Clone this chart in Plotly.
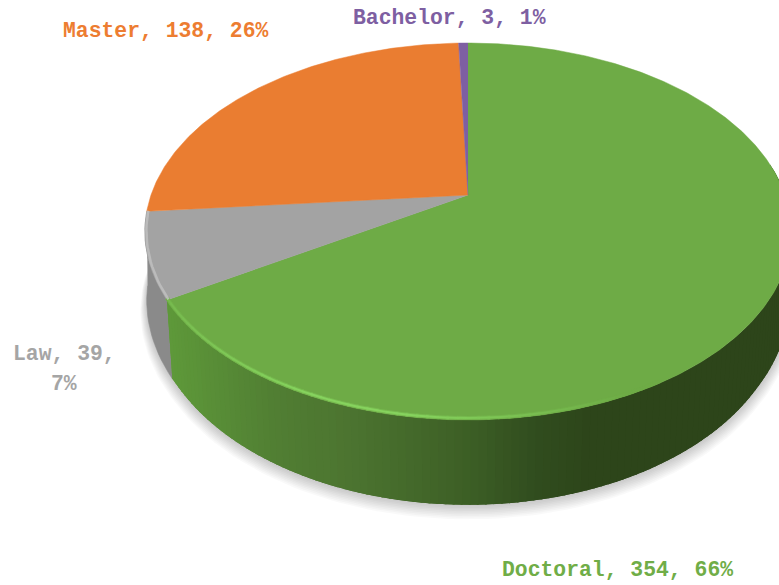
import numpy as np
import plotly.graph_objects as go

categories = ["Doctoral", "Law", "Master", "Bachelor"]
values = [354, 39, 138, 3]
top_colors = ["#6EAB46", "#A3A3A3", "#EA7D31", "#7E5FA2"]
text_colors = ["#70AD47", "#A5A5A5", "#ED7D31", "#7E5FA2"]

# screen geometry of the tilted disc
CX, CY, AX, BY, K = 468.0, 195.0, 317.0, 181.4, 0.1936
BASE_CY, BASE_SY = 268.6, 1.05

side_stops_x = [150, 175, 270, 350, 470, 540, 590, 800]
side_stops_rgb = [(96, 156, 60), (93, 151, 57), (81, 127, 51), (76, 116, 48),
                  (60, 94, 37), (48, 76, 30), (45, 69, 26), (45, 69, 26)]


def top_pt(deg):
    t = np.radians(deg)
    x, y = np.sin(t), np.cos(t)
    w = 1 + K * y
    return CX + AX * x / w, CY - BY * y / w


def base_pt(deg):
    sx, sy = top_pt(deg)
    rel = sy - CY
    factor = max(0.98, 1.0 - 0.018 * max(rel, 0) / 105)
    return CX + factor * (sx - CX), BASE_CY + BASE_SY * rel


def side_color(x):
    c = [np.interp(x, side_stops_x, [s[i] for s in side_stops_rgb]) for i in range(3)]
    return "rgb(%d,%d,%d)" % tuple(int(round(v)) for v in c)


total = sum(values)
angles = np.concatenate([[0], np.cumsum(values) / total * 360])
fig = go.Figure()


def poly(xs, ys, color, lw=0.6, line=None):
    fig.add_trace(go.Scatter(x=list(xs), y=list(ys), mode="lines", fill="toself",
                             fillcolor=color, line=dict(color=line or color, width=lw),
                             hoverinfo="skip", showlegend=False))


# soft shadow under the disc
arc = np.linspace(0, 360, 241)
for i in range(9):
    pts = np.array([base_pt(a) for a in arc])
    grow = 1.0 + (9 - i) * 0.0022
    xs = CX + (pts[:, 0] - CX) * grow
    ys = BASE_CY + (pts[:, 1] - BASE_CY) * grow + (9 - i) * 1.1
    poly(xs, ys, "rgba(0,0,0,0.022)", lw=0)

# side wall: each band also covers the next, so no seams show
seg = np.linspace(angles[2], angles[1], 16)
t = [top_pt(a) for a in seg]
b = [base_pt(a) for a in seg]
poly([p[0] for p in t] + [p[0] for p in b[::-1]],
     [p[1] for p in t] + [p[1] for p in b[::-1]], "#8A8A8A")
edges = np.arange(80, angles[1] + 1.0, 1.2)
edges[-1] = angles[1]
for a0, a1 in zip(edges[:-1], edges[1:]):
    arc_seg = np.linspace(a0, min(a1 + 1.5, angles[1]), 4)
    t = [top_pt(a) for a in arc_seg]
    b = [base_pt(a) for a in arc_seg]
    poly([p[0] for p in t] + [p[0] for p in b[::-1]],
         [p[1] for p in t] + [p[1] for p in b[::-1]],
         side_color(top_pt((a0 + a1) / 2)[0]), lw=0)

# top faces of the slices
for i, cat in enumerate(categories):
    seg = np.linspace(angles[i], angles[i + 1], max(3, int((angles[i + 1] - angles[i]) * 2)))
    pts = [top_pt(a) for a in seg]
    poly([CX] + [p[0] for p in pts], [CY] + [p[1] for p in pts], top_colors[i], lw=0.5)


def mix(s, a=(110, 171, 70), b=(140, 222, 100)):
    return "rgb(%d,%d,%d)" % tuple(int(a[i] + (b[i] - a[i]) * s) for i in range(3))


# bevel highlight along the front rim (opaque, wide pass first)
hi = np.arange(angles[1], 150, -1.5)
for width, alpha in ((4.0, 0.3), (2.0, 0.8)):
    for a0, a1 in zip(hi[:-1], hi[1:]):
        strength = np.interp((a0 + a1) / 2, [155, 188, 205, 239], [0, 1, 1, 0.35]) * alpha
        p0, p1 = top_pt(a0), top_pt(a1 - 0.4)
        fig.add_trace(go.Scatter(x=[p0[0], p1[0]], y=[p0[1] - 2, p1[1] - 2], mode="lines",
                                 line=dict(color=mix(strength), width=width),
                                 hoverinfo="skip", showlegend=False))
rim = np.linspace(angles[1], angles[2], 20)
rp = np.array([top_pt(a) for a in rim])
fig.add_trace(go.Scatter(x=rp[:, 0] + 1.5, y=rp[:, 1] - 0.5, mode="lines",
                         line=dict(color="rgba(190,190,190,0.9)", width=2.5),
                         hoverinfo="skip", showlegend=False))

pct = [round(v / total * 100) for v in values]
label_pos = {"Doctoral": (617, 570), "Master": (166, 31), "Bachelor": (449, 18)}
ann = []
font = lambda c: dict(family="Liberation Mono", size=21.4, color=c)
for i, cat in enumerate(categories):
    if cat in label_pos:
        ann.append(dict(x=label_pos[cat][0], y=label_pos[cat][1], xref="x", yref="y", showarrow=False,
                        text="<b>%s, %d, %d%%</b>" % (cat, values[i], pct[i]), font=font(text_colors[i])))
    else:
        ann.append(dict(x=64, y=354, xref="x", yref="y", showarrow=False,
                        text="<b>%s, %d,</b>" % (cat, values[i]), font=font(text_colors[i])))
        ann.append(dict(x=64, y=384, xref="x", yref="y", showarrow=False,
                        text="<b>%d%%</b>" % pct[i], font=font(text_colors[i])))

fig.update_layout(width=779, height=585, margin=dict(l=0, r=0, t=0, b=0), showlegend=False,
                  paper_bgcolor="white", plot_bgcolor="white", annotations=ann,
                  xaxis=dict(range=[0, 779], visible=False, fixedrange=True),
                  yaxis=dict(range=[585, 0], visible=False, fixedrange=True))
fig.write_html("out.html", config=dict(displayModeBar=False),
               post_script="document.body.style.margin='0';document.body.style.overflow='hidden';")
